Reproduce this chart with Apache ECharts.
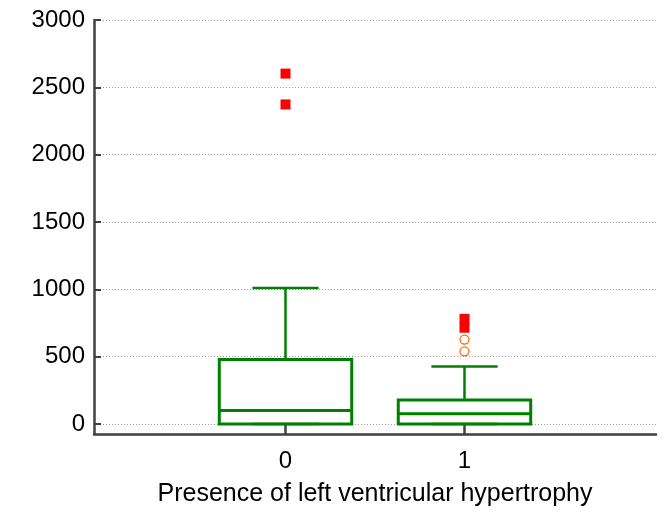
<!DOCTYPE html>
<html>
<head>
<meta charset="utf-8">
<script src="https://cdn.jsdelivr.net/npm/echarts@6/dist/echarts.min.js"></script>
<style>
html,body{margin:0;padding:0;background:#fff;}
#chart{width:664px;height:512px;}
</style>
</head>
<body>
<div id="chart"></div>
<script>
// Groups and five-number summaries
const groups = [0, 1];
const lowerWhisker = [0, 0];
const q1 = [0, 0];
const median = [100, 76];
const q3 = [480, 179];
const upperWhisker = [1010, 427];

// Outliers: far-out values (squares) and outside values (circles)
const farOutGroup = [0, 0, 1, 1];
const farOutValues = [2602, 2373, 781, 715];
const outsideGroup = [1, 1];
const outsideValues = [627, 540];

const yTicks = [0, 500, 1000, 1500, 2000, 2500, 3000];

const boxData = groups.map((g, i) => [g, lowerWhisker[i], q1[i], median[i], q3[i], upperWhisker[i]]);
const farOutData = farOutGroup.map((g, i) => [g, farOutValues[i]]);
const outsideData = outsideGroup.map((g, i) => [g, outsideValues[i]]);

const GREEN = '#008000';
const BOX_HALF = 0.37;
const CAP_HALF = 0.185;
const FONT = 'Liberation Sans';

function renderBox(params, api) {
  const x = api.value(0);
  const lo = api.coord([x, api.value(1)]);
  const b1 = api.coord([x, api.value(2)]);
  const md = api.coord([x, api.value(3)]);
  const b3 = api.coord([x, api.value(4)]);
  const hi = api.coord([x, api.value(5)]);
  const left = api.coord([x - BOX_HALF, 0])[0];
  const right = api.coord([x + BOX_HALF, 0])[0];
  const capL = api.coord([x - CAP_HALF, 0])[0];
  const capR = api.coord([x + CAP_HALF, 0])[0];
  const boxStyle = { stroke: GREEN, lineWidth: 3, fill: null };
  const whiskerStyle = { stroke: GREEN, lineWidth: 2.5 };
  const line = (x1, y1, x2, y2, style) => ({ type: 'line', shape: { x1, y1, x2, y2 }, style });
  return {
    type: 'group',
    children: [
      line(hi[0], b3[1], hi[0], hi[1], whiskerStyle),
      line(capL, hi[1], capR, hi[1], whiskerStyle),
      line(lo[0], b1[1], lo[0], lo[1], whiskerStyle),
      line(capL, lo[1], capR, lo[1], whiskerStyle),
      { type: 'rect', shape: { x: left, y: b3[1], width: right - left, height: b1[1] - b3[1] }, style: boxStyle },
      line(left, md[1], right, md[1], boxStyle)
    ]
  };
}

const chart = echarts.init(document.getElementById('chart'), null, { renderer: 'canvas' });
chart.setOption({
  animation: false,
  backgroundColor: '#ffffff',
  grid: { left: 94, right: 8, top: 20, bottom: 75, containLabel: false },
  xAxis: {
    type: 'value',
    min: -1.07,
    max: 2.07,
    name: 'Presence of left ventricular hypertrophy',
    nameLocation: 'middle',
    nameGap: 48,
    nameTextStyle: { fontFamily: FONT, fontSize: 25, color: '#000' },
    axisLine: { show: true, onZero: false, lineStyle: { color: '#404040', width: 2.5 } },
    axisTick: { show: true, inside: true, length: 10, customValues: groups, lineStyle: { color: '#404040', width: 2.5 } },
    axisLabel: { customValues: groups, margin: 15, fontFamily: FONT, fontSize: 24, color: '#000' },
    splitLine: { show: false }
  },
  yAxis: {
    type: 'value',
    min: -74,
    max: 3000,
    axisLine: { show: true, onZero: false, lineStyle: { color: '#404040', width: 2.5 } },
    axisTick: { show: true, inside: true, length: 7, customValues: yTicks, lineStyle: { color: '#404040', width: 2 } },
    axisLabel: {
      customValues: yTicks, margin: 9, fontFamily: FONT, fontSize: 24, color: '#000',
      formatter: v => String(v)
    },
    splitLine: { show: true, lineStyle: { color: '#9a9a9a', width: 1, type: [1, 2] } }
  },
  series: [
    {
      type: 'custom',
      renderItem: renderBox,
      data: boxData,
      encode: { x: 0, y: [1, 2, 3, 4, 5] },
      z: 3
    },
    {
      type: 'scatter',
      data: outsideData,
      symbol: 'circle',
      symbolSize: 9,
      itemStyle: { color: '#ffffff', borderColor: '#ff6a00', borderWidth: 1.3, opacity: 1 },
      z: 4
    },
    {
      type: 'scatter',
      data: farOutData,
      symbol: 'rect',
      symbolSize: 10,
      itemStyle: { color: '#ff0000', opacity: 1 },
      z: 5
    }
  ]
});
</script>
</body>
</html>
